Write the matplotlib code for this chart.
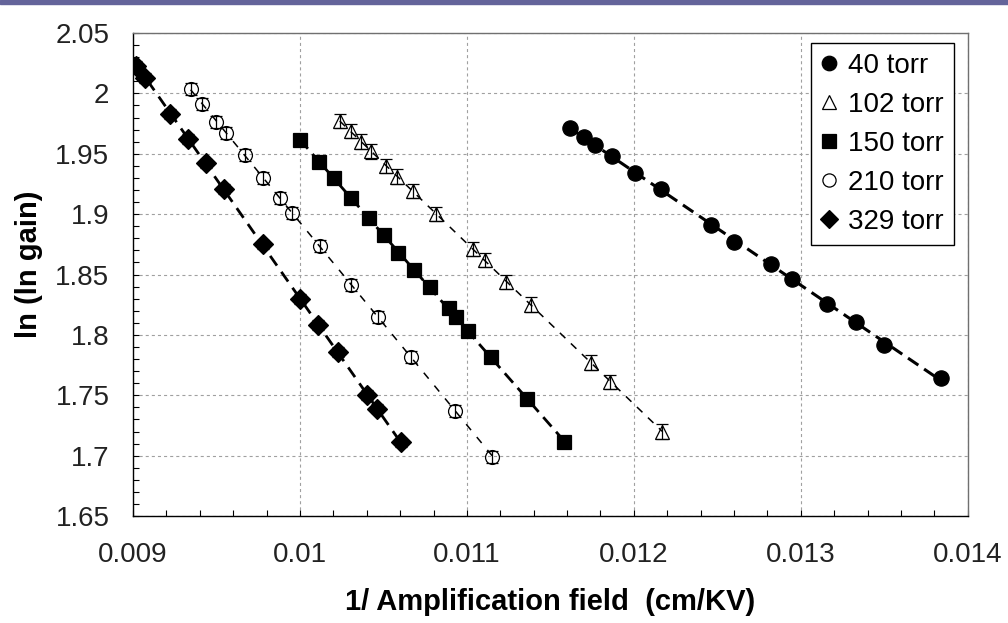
import numpy as np
import matplotlib
matplotlib.use("Agg")
import matplotlib.pyplot as plt
from matplotlib.ticker import MultipleLocator

plt.rcParams['font.family'] = ['Liberation Sans', 'DejaVu Sans']
plt.rcParams['lines.scale_dashes'] = False

# data
x40 = [0.01162, 0.01170, 0.01177, 0.01187, 0.01201, 0.01216, 0.01246,
       0.01260, 0.01282, 0.01295, 0.01316, 0.01333, 0.01350, 0.01384]
y40 = [1.971, 1.964, 1.957, 1.948, 1.934, 1.921, 1.891,
       1.877, 1.859, 1.846, 1.826, 1.811, 1.792, 1.764]

x102 = [0.010238, 0.010303, 0.010367, 0.010427, 0.010517, 0.010583, 0.010677,
        0.010812, 0.011036, 0.011106, 0.011236, 0.011386, 0.011746, 0.011860,
        0.012170]
y102 = [1.977, 1.969, 1.960, 1.952, 1.940, 1.931, 1.919,
        1.900, 1.871, 1.862, 1.844, 1.825, 1.777, 1.761, 1.720]

x150 = [0.009998, 0.010114, 0.010204, 0.010307, 0.010413, 0.010503, 0.010587,
        0.010681, 0.010776, 0.010893, 0.010933, 0.011008, 0.011142, 0.011358,
        0.011583]
y150 = [1.961, 1.943, 1.930, 1.913, 1.897, 1.883, 1.868,
        1.854, 1.840, 1.822, 1.815, 1.803, 1.782, 1.747, 1.711]

x210 = [0.009345, 0.009413, 0.009499, 0.009559, 0.009671, 0.009780, 0.009878,
        0.009954, 0.010118, 0.010305, 0.010470, 0.010668, 0.010930, 0.011152]
y210 = [2.004, 1.991, 1.976, 1.967, 1.949, 1.930, 1.913,
        1.901, 1.874, 1.841, 1.815, 1.782, 1.737, 1.699]

x329 = [0.00902, 0.009074, 0.009224, 0.009331, 0.009439, 0.009543, 0.009778,
        0.01000, 0.01011, 0.010225, 0.01040, 0.010463, 0.010604]
y329 = [2.023, 2.013, 1.983, 1.962, 1.942, 1.921, 1.875,
        1.830, 1.808, 1.786, 1.750, 1.739, 1.711]

labels = ['40 torr', '102 torr', '150 torr', '210 torr', '329 torr']
yerrs = [0.004, 0.006, 0.004, 0.005, 0.004]

xticks = [0.009, 0.010, 0.011, 0.012, 0.013, 0.014]
xticklabels = ['0.009', '0.01', '0.011', '0.012', '0.013', '0.014']
yticks = [1.65, 1.70, 1.75, 1.80, 1.85, 1.90, 1.95, 2.00, 2.05]
yticklabels = ['1.65', '1.7', '1.75', '1.8', '1.85', '1.9', '1.95', '2', '2.05']

fig = plt.figure(figsize=(10.08, 6.23), dpi=100)
ax = fig.add_axes([0.132, 0.1717, 0.828, 0.7753])

# purple strip on top
fig.patches.append(plt.Rectangle((0, 1 - 4 / 623), 1, 4 / 623, transform=fig.transFigure,
                                 color='#64649a', zorder=0))

series = [
    (x40, y40, 'o', 'k', 11, 2.2, (9, 5)),
    (x102, y102, '^', 'none', 10.5, 1.1, (5.5, 5.5)),
    (x150, y150, 's', 'k', 10.5, 2.0, (9, 5)),
    (x210, y210, 'o', 'none', 10, 1.1, (5.5, 6.5)),
    (x329, y329, 'D', 'k', 10, 2.0, (8.5, 5.5)),
]

handles = []
for (xs, ys, m, fc, ms, lw, dash), lab, err in zip(series, labels, yerrs):
    xs = np.array(xs)
    ys = np.array(ys)
    ax.errorbar(xs, ys, yerr=err, fmt='none', ecolor='k', elinewidth=0.9,
                capsize=4, capthick=0.9, zorder=3)
    h, = ax.plot(xs, ys, linestyle='none', marker=m, markersize=ms,
                 markerfacecolor=fc, markeredgecolor='k', markeredgewidth=0.9,
                 zorder=4, label=lab)
    handles.append(h)
    # linear fit through the points
    k, b = np.polyfit(xs, ys, 1)
    xf = np.array([xs.min(), xs.max()])
    ax.plot(xf, k * xf + b, color='k', linewidth=lw, dashes=dash, zorder=5)

ax.set_xlim(0.009, 0.014)
ax.set_ylim(1.65, 2.05)
ax.set_xticks(xticks)
ax.set_xticklabels(xticklabels)
ax.set_yticks(yticks)
ax.set_yticklabels(yticklabels)
ax.xaxis.set_minor_locator(MultipleLocator(0.0002))
ax.yaxis.set_minor_locator(MultipleLocator(0.01))
ax.tick_params(which='both', direction='in', length=4, width=0.8, color='k',
               top=False, right=False)
ax.tick_params(axis='x', which='major', pad=19, labelsize=20, labelcolor='#222222')
ax.tick_params(axis='y', which='major', pad=17, labelsize=20, labelcolor='#222222')

ax.grid(True, which='major', color='#a0a0a0', linewidth=0.8, dashes=(2.2, 2.2))
ax.set_axisbelow(True)

for s in ['top', 'right']:
    ax.spines[s].set_color('#707070')
for s in ['left', 'bottom']:
    ax.spines[s].set_color('k')
for s in ax.spines.values():
    s.set_linewidth(1.0)

fig.text(0.546, 0.0337, '1/ Amplification field  (cm/KV)', ha='center', va='center',
         fontsize=21, fontweight='bold')
fig.text(0.0288, 0.5763, 'ln (ln gain)', ha='center', va='center', rotation=90,
         fontsize=21, fontweight='bold')

leg = ax.legend(handles=handles, loc='upper right', bbox_to_anchor=(0.9832, 0.979),
                fontsize=20, frameon=True, fancybox=False, framealpha=1,
                edgecolor='k', handlelength=0.6, handletextpad=0.4,
                borderpad=0.35, labelspacing=0.47, borderaxespad=0,
                markerscale=0.95)
leg.get_frame().set_linewidth(1.0)

fig.savefig('out.png', dpi=100)
